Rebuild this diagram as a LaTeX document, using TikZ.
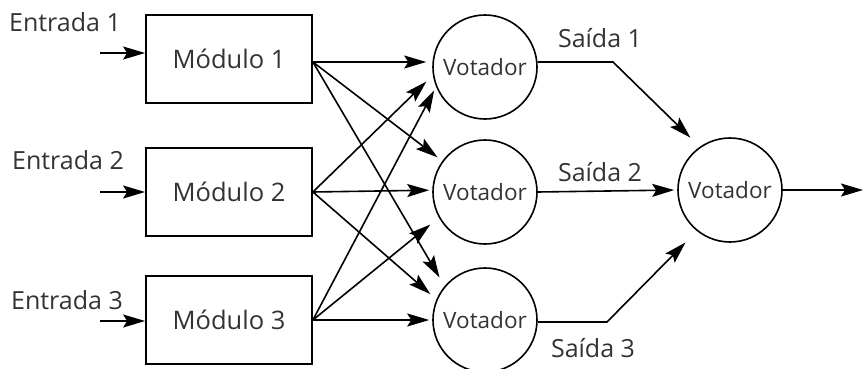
\documentclass[tikz,border=0pt]{standalone}
\usepackage{fontspec}
\setmainfont{Open Sans}
\usetikzlibrary{arrows.meta}
\begin{document}
\begin{tikzpicture}[x=1pt,y=-1pt,
  lbl/.style={font=\fontsize{25}{30}\selectfont, text=black!80, inner sep=0pt},
  modbox/.style={draw, line width=1.8pt, minimum width=166pt, minimum height=88pt,
    inner sep=0pt, font=\fontsize{25.5}{30}\selectfont, text=black!80},
  voter/.style={draw, circle, line width=1.6pt, minimum size=104pt, inner sep=0pt,
    font=\fontsize{22.5}{26}\selectfont, text=black!80},
  wire/.style={line width=1.6pt},
  arr/.style={wire, -{Stealth[length=22pt,width=13pt,inset=4pt]}}]
\useasboundingbox (0,0) rectangle (864,369);

% modules
\node[modbox] (m1) at (229,59)  {Módulo 1\hspace{10pt}};
\node[modbox] (m2) at (229,192) {Módulo 2\hspace{10pt}};
\node[modbox] (m3) at (229,320) {Módulo 3\hspace{10pt}};

% voters
\node[voter] (v1) at (485,67)  {Votador};
\node[voter] (v2) at (485,192) {Votador};
\node[voter] (v3) at (485,320) {Votador};
\node[voter] (v4) at (730,190) {Votador};

% input labels and arrows
\node[lbl] (e1) at (65,22)  {Entrada 1};
\node[lbl] (e2) at (68,160) {Entrada 2};
\node[lbl] (e3) at (67,300) {Entrada 3};
\coordinate (i1) at (100,53);
\coordinate (i2) at (100,192);
\coordinate (i3) at (100,321);
\draw[arr] (i1) -- (i1 -| m1.west);
\draw[arr] (i2) -- (i2 -| m2.west);
\draw[arr] (i3) -- (i3 -| m3.west);

% every module feeds every voter
\coordinate (o1) at ([yshift=-3pt]m1.east);
\draw[arr, shorten >=6pt]  (o1) -- (o1 -| v1.west);
\draw[arr, shorten >=6pt]  (o1) -- (v2.144);
\draw[arr, shorten >=10pt] (o1) -- (v3.140);
\draw[arr, shorten >=9pt]  (m2.east) -- (v1.189);
\draw[arr, shorten >=3pt]  (m2.east) -- (v2.178);
\draw[arr, shorten >=8pt]  (m2.east) -- (v3.157);
\draw[arr, shorten >=4pt]  (m3.east) -- (v1.202);
\draw[arr, shorten >=11pt] (m3.east) -- (v2.209);
\draw[arr, shorten >=3pt]  (m3.east) -- (v3.180);

% outputs to the final voter
\coordinate (k1) at (613,62);
\coordinate (k3) at (607,322);
\draw[arr, shorten >=13pt] (v1.east |- k1) -- (k1) -- (v4.125);
\draw[arr, shorten >=3pt]  (v2.east) -- (v4.west);
\draw[arr, shorten >=16pt] (v3.east |- k3) -- (k3) -- (v4.231);
\node[lbl] (s1) at (600,38)  {Saída 1};
\node[lbl] (s2) at (600,172) {Saída 2};
\node[lbl] (s3) at (593,348) {Saída 3};

\coordinate (out) at (863,190);
\draw[arr] (v4.east) -- (out);
\end{tikzpicture}
\end{document}
